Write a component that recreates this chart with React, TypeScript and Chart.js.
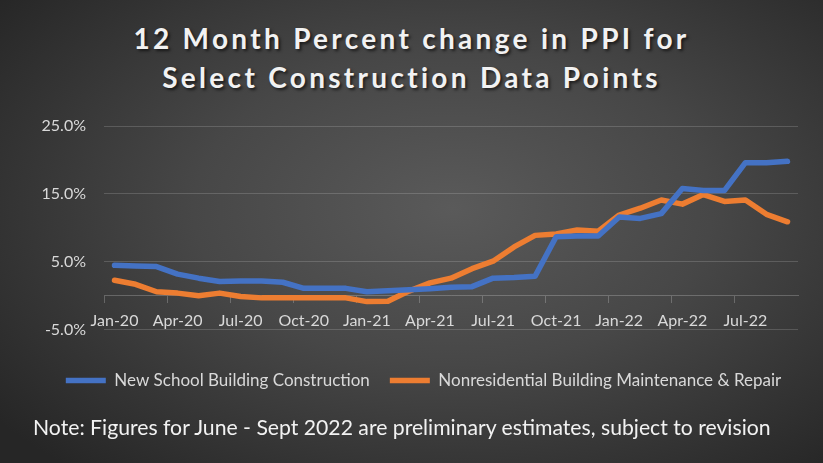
import React, { useEffect, useRef } from 'react';
import { Chart, registerables } from 'chart.js';

Chart.register(...registerables);

const months = [
  'Jan-20', 'Feb-20', 'Mar-20', 'Apr-20', 'May-20', 'Jun-20', 'Jul-20', 'Aug-20', 'Sep-20', 'Oct-20', 'Nov-20', 'Dec-20',
  'Jan-21', 'Feb-21', 'Mar-21', 'Apr-21', 'May-21', 'Jun-21', 'Jul-21', 'Aug-21', 'Sep-21', 'Oct-21', 'Nov-21', 'Dec-21',
  'Jan-22', 'Feb-22', 'Mar-22', 'Apr-22', 'May-22', 'Jun-22', 'Jul-22', 'Aug-22', 'Sep-22',
];

const newSchoolConstruction = [
  4.5, 4.4, 4.3, 3.2, 2.6, 2.1, 2.2, 2.2, 2.0, 1.1, 1.1, 1.1,
  0.6, 0.75, 0.9, 1.05, 1.25, 1.35, 2.6, 2.7, 2.9, 8.7, 8.8, 8.8,
  11.6, 11.4, 12.1, 15.8, 15.5, 15.5, 19.6, 19.6, 19.8,
];

const nonresidentialMaintenance = [
  2.3, 1.7, 0.6, 0.4, 0.0, 0.4, -0.1, -0.3, -0.3, -0.3, -0.3, -0.3,
  -0.85, -0.8, 0.7, 1.9, 2.6, 4.0, 5.1, 7.2, 8.9, 9.1, 9.7, 9.5,
  11.9, 12.9, 14.1, 13.5, 14.9, 13.9, 14.1, 12.0, 10.9,
];

const seriesNames = ['New School Building Construction', 'Nonresidential Building Maintenance & Repair'];
const titleLines = ['12 Month Percent change in PPI for', 'Select Construction Data Points'];
const noteText = 'Note: Figures for June - Sept 2022 are preliminary estimates, subject to revision';

const yMin = -5;
const yMax = 25;
const yStep = 10;
const labelEvery = 3;

export default function App() {
  const canvasRef = useRef<HTMLCanvasElement>(null);

  useEffect(() => {
    const canvas = canvasRef.current;
    if (!canvas) return;
    const gridColor = 'rgba(255,255,255,0.16)';
    const axisColor = 'rgba(255,255,255,0.22)';
    const chart = new Chart(canvas, {
      type: 'line',
      data: {
        labels: months,
        datasets: [
          {
            label: seriesNames[0],
            data: newSchoolConstruction,
            borderColor: '#4472C4',
            backgroundColor: '#4472C4',
            borderWidth: 5.5,
            pointRadius: 0,
            tension: 0,
            borderCapStyle: 'round',
            borderJoinStyle: 'round',
          },
          {
            label: seriesNames[1],
            data: nonresidentialMaintenance,
            borderColor: '#ED7D31',
            backgroundColor: '#ED7D31',
            borderWidth: 5.5,
            pointRadius: 0,
            tension: 0,
            borderCapStyle: 'round',
            borderJoinStyle: 'round',
          },
        ],
      },
      options: {
        responsive: false,
        animation: false,
        devicePixelRatio: 1,
        layout: { padding: { top: 126, right: 0, bottom: 64, left: 24 } },
        scales: {
          x: {
            type: 'category',
            position: { y: 0 } as any,
            offset: true,
            grid: {
              offset: true,
              drawOnChartArea: false,
              drawTicks: true,
              tickLength: 7,
              color: (ctx: any) => (ctx.index % labelEvery === 0 ? axisColor : 'rgba(0,0,0,0)'),
            },
            border: { display: true, color: axisColor, width: 1 },
            ticks: {
              autoSkip: false,
              maxRotation: 0,
              minRotation: 0,
              padding: 8,
              color: '#d9d9d9',
              font: { family: 'Lato', size: 16 },
              callback: (_v: any, i: number) => (i % labelEvery === 0 ? months[i] : ''),
            },
          },
          y: {
            min: yMin,
            max: yMax,
            afterFit: (scale: any) => {
              scale.width = 80;
            },
            grid: { color: gridColor, drawTicks: false },
            border: { display: false },
            ticks: {
              stepSize: yStep,
              padding: 18,
              color: '#d9d9d9',
              font: { family: 'Lato', size: 16 },
              callback: (v: any) => Number(v).toFixed(1) + '%',
            },
          },
          yRightSpace: {
            type: 'linear',
            position: 'right',
            display: true,
            afterFit: (scale: any) => {
              scale.width = 25;
            },
            grid: { display: false, drawOnChartArea: false },
            border: { display: false },
            ticks: { display: false },
          },
        },
        plugins: {
          tooltip: { enabled: false },
          title: { display: false },
          legend: {
            display: true,
            position: 'bottom',
            title: { display: true, text: '', font: { size: 1 }, padding: { top: 0, bottom: 21 } },
            labels: {
              color: '#d9d9d9',
              font: { family: 'Lato', size: 17 },
              usePointStyle: true,
              pointStyle: 'line',
              pointStyleWidth: 40,
              padding: 20,
            },
          },
        },
      },
    });
    return () => chart.destroy();
  }, []);

  return (
    <div
      style={{
        position: 'absolute',
        left: 0,
        top: 0,
        width: 823,
        height: 463,
        overflow: 'hidden',
        background: 'radial-gradient(ellipse 70% 75% at 55% 45%, #5a5a5a 0%, #474747 45%, #262626 100%)',
        fontFamily: 'Lato, sans-serif',
      }}
    >
      <div
        style={{
          position: 'absolute',
          left: 0,
          top: 19,
          width: 823,
          textAlign: 'center',
          color: '#f2f2f2',
          fontWeight: 700,
          fontSize: 28,
          lineHeight: '39px',
          letterSpacing: '3.3px',
          textShadow: '2px 2px 3px rgba(0,0,0,0.6)',
        }}
      >
        {titleLines.map((t) => (
          <div key={t}>{t}</div>
        ))}
      </div>
      <canvas ref={canvasRef} width={823} height={463} style={{ position: 'absolute', left: 0, top: 0 }} />
      <div
        style={{
          position: 'absolute',
          left: 33,
          top: 412,
          whiteSpace: 'nowrap',
          color: '#f2f2f2',
          fontSize: 21.2,
          lineHeight: '30px',
        }}
      >
        {noteText}
      </div>
    </div>
  );
}
